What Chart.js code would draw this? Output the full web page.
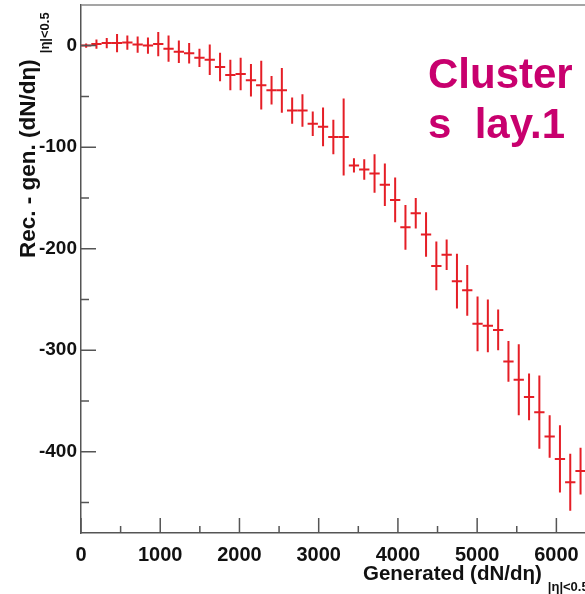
<!DOCTYPE html>
<html>
<head>
<meta charset="utf-8">
<script src="https://cdn.jsdelivr.net/npm/chart.js@4/dist/chart.umd.min.js"></script>
<style>
  html, body { margin: 0; padding: 0; background: #fff; overflow: hidden; }
  #wrap { width: 585px; height: 594px; overflow: hidden; position: relative; }
  #chart { position: absolute; left: 0; top: 0; }
</style>
</head>
<body>
<div id="wrap"><canvas id="chart" width="660" height="594"></canvas></div>
<script>
// bin centres of generated dN/deta (bin width 130)
var genCenters = [65, 195, 325, 455, 585, 715, 845, 975, 1105, 1235,
  1365, 1495, 1625, 1755, 1885, 2015, 2145, 2275, 2405, 2535,
  2665, 2795, 2925, 3055, 3185, 3315, 3445, 3575, 3705, 3835,
  3965, 4095, 4225, 4355, 4485, 4615, 4745, 4875, 5005, 5135,
  5265, 5395, 5525, 5655, 5785, 5915, 6045, 6175, 6305];
// rec - gen
var recMinusGen = [0, 1.5, 2.5, 2.5, 3, 1, 0, 1.5, -3, -6,
  -7.5, -12, -14, -21, -29, -28, -34, -39, -44, -44,
  -64, -64, -77, -80, -90, -90, -118, -122, -126, -137,
  -152, -179, -165, -186, -217, -206, -232, -241, -274, -276,
  -280, -311, -329, -346, -361, -385, -407, -430, -419];
var errors = [2, 4.5, 5, 9, 7, 8, 8, 12, 13, 11,
  10, 9, 15, 14, 15, 16, 16, 24, 14, 22,
  13, 16, 12, 19, 17, 38, 7, 10, 19, 21,
  22, 22, 15, 22, 24, 15, 27, 25, 27, 26,
  20, 20, 35, 23, 36, 21, 33, 28, 23];
var xTickLabels = [0, 1000, 2000, 3000, 4000, 5000, 6000];
var yTickLabels = [-400, -300, -200, -100, 0];
var binHalf = 65;

var FONT = "'Liberation Sans', Arial, sans-serif";
var RED = "#e51e26";
var AXIS = "#555";

var errorBars = {
  id: "errorBars",
  afterDatasetsDraw: function (chart) {
    var ctx = chart.ctx, a = chart.chartArea, x = chart.scales.x, y = chart.scales.y;
    ctx.save();
    ctx.beginPath();
    ctx.rect(a.left, a.top, a.right - a.left, a.bottom - a.top);
    ctx.clip();
    ctx.strokeStyle = RED;
    ctx.lineWidth = 2;
    genCenters.forEach(function (g, i) {
      var v = recMinusGen[i], e = errors[i];
      var px = x.getPixelForValue(g), py = y.getPixelForValue(v);
      ctx.beginPath();
      ctx.moveTo(x.getPixelForValue(g - binHalf), py);
      ctx.lineTo(x.getPixelForValue(g + binHalf), py);
      ctx.moveTo(px, y.getPixelForValue(v + e));
      ctx.lineTo(px, y.getPixelForValue(v - e));
      ctx.stroke();
    });
    ctx.restore();
  }
};

// ROOT style frame, inward ticks and axis titles
var frame = {
  id: "frame",
  afterDraw: function (chart) {
    var ctx = chart.ctx, a = chart.chartArea, x = chart.scales.x, y = chart.scales.y;
    ctx.save();
    ctx.strokeStyle = "#888";
    ctx.lineWidth = 1.5;
    ctx.beginPath();
    ctx.moveTo(a.left, a.top);
    ctx.lineTo(a.right, a.top);
    ctx.lineTo(a.right, a.bottom);
    ctx.stroke();

    ctx.strokeStyle = AXIS;
    ctx.beginPath();
    for (var xv = 0; xv <= 6500; xv += 500) {
      var len = xv % 1000 === 0 ? 15 : 7;
      var px = x.getPixelForValue(xv);
      ctx.moveTo(px, a.bottom);
      ctx.lineTo(px, a.bottom - len);
    }
    for (var yv = -450; yv <= 0; yv += 50) {
      var ylen = yv % 100 === 0 ? 15 : 8;
      var py = y.getPixelForValue(yv);
      ctx.moveTo(a.left, py);
      ctx.lineTo(a.left + ylen, py);
    }
    ctx.stroke();

    ctx.fillStyle = "#111";
    ctx.textBaseline = "alphabetic";
    ctx.textAlign = "left";
    // x title
    ctx.font = "bold 20.5px " + FONT;
    var xt = "Generated (dN/d\u03b7)";
    ctx.fillText(xt, 363, 580);
    var w = ctx.measureText(xt).width;
    ctx.font = "bold 13px " + FONT;
    ctx.fillText("|\u03b7|<0.5", 363 + w + 6, 591);

    // y title
    ctx.save();
    ctx.translate(35, 258);
    ctx.rotate(-Math.PI / 2);
    ctx.font = "bold 22.5px " + FONT;
    var yt = "Rec. - gen. (dN/d\u03b7)";
    ctx.fillText(yt, 0, 0);
    var wy = ctx.measureText(yt).width;
    ctx.font = "bold 13px " + FONT;
    ctx.fillText("|\u03b7|<0.5", wy + 6, 14);
    ctx.restore();

    // label
    ctx.fillStyle = "#c8006e";
    ctx.font = "bold 42px " + FONT;
    ctx.fillText("Cluster", 428, 88);
    ctx.fillText("s  lay.1", 428, 138);
    ctx.restore();
  }
};

var tickFont = { family: FONT, size: 19, weight: "bold" };
var xTickFont = { family: FONT, size: 20, weight: "bold" };

new Chart(document.getElementById("chart"), {
  type: "scatter",
  data: {
    datasets: [{
      data: genCenters.map(function (g, i) { return { x: g, y: recMinusGen[i] }; }),
      pointRadius: 0,
      showLine: false,
      borderColor: RED
    }]
  },
  options: {
    responsive: false,
    animation: false,
    layout: { padding: { left: 0, top: 5, right: 64, bottom: 0 } },
    plugins: { legend: { display: false }, tooltip: { enabled: false } },
    scales: {
      x: {
        type: "linear", min: 0, max: 6500,
        afterBuildTicks: function (s) { s.ticks = xTickLabels.map(function (v) { return { value: v }; }); },
        afterFit: function (s) { s.height = 61; s.paddingLeft = 0; s.paddingRight = 0; },
        grid: { display: false, drawTicks: false },
        border: { display: true, color: AXIS, width: 1.5 },
        ticks: {
          autoSkip: false, padding: 10, color: "#111", font: xTickFont, maxRotation: 0,
          callback: function (v) { return String(v); }
        }
      },
      y: {
        min: -480, max: 40,
        afterBuildTicks: function (s) { s.ticks = yTickLabels.map(function (v) { return { value: v }; }); },
        afterFit: function (s) { s.width = 81; s.paddingTop = 0; s.paddingBottom = 0; },
        grid: { display: false, drawTicks: false },
        border: { display: true, color: AXIS, width: 1.5 },
        ticks: {
          autoSkip: false, padding: 4, color: "#111", font: tickFont,
          callback: function (v) { return String(v); }
        }
      }
    }
  },
  plugins: [errorBars, frame]
});
</script>
</body>
</html>
